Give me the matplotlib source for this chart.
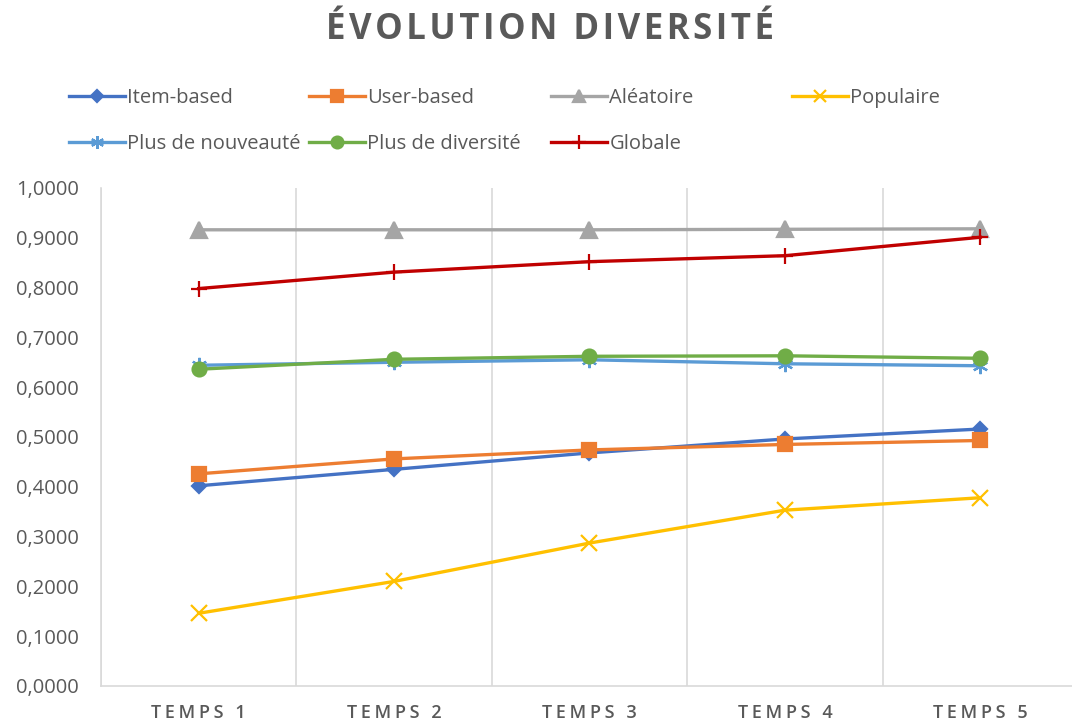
import matplotlib
matplotlib.use("Agg")
import matplotlib.pyplot as plt
from matplotlib.ticker import FuncFormatter, FixedLocator

plt.rcParams['font.family'] = ['Open Sans', 'DejaVu Sans']

# diversity score per time step, one list per recommender
temps = ["TEMPS 1", "TEMPS 2", "TEMPS 3", "TEMPS 4", "TEMPS 5"]
item_based = [0.402, 0.435, 0.468, 0.496, 0.516]
user_based = [0.426, 0.456, 0.474, 0.485, 0.493]
aleatoire = [0.916, 0.916, 0.916, 0.917, 0.918]
populaire = [0.146, 0.210, 0.287, 0.353, 0.378]
plus_nouveaute = [0.644, 0.650, 0.655, 0.647, 0.643]
plus_diversite = [0.636, 0.656, 0.662, 0.663, 0.658]
globale = [0.798, 0.831, 0.852, 0.864, 0.901]

series = [
    ("Item-based", item_based, "#4472C4", "D", 7.5),
    ("User-based", user_based, "#ED7D31", "s", 10.5),
    ("Aléatoire", aleatoire, "#A5A5A5", "^", 11),
    ("Populaire", populaire, "#FFC000", "x", 11),
    ("Plus de nouveauté", plus_nouveaute, "#5B9BD5", (6, 2, 0), 11),
    ("Plus de diversité", plus_diversite, "#70AD47", "o", 10),
    ("Globale", globale, "#C00000", "+", 12),
]

TEXT = "#595959"
GRID = "#D9D9D9"
THIN = "\u2009"
HAIR = "\u200a"


def spaced(s, gap=THIN):
    # fake letter spacing with narrow spaces
    return gap.join(s)


fig = plt.figure(figsize=(10.72, 7.26), dpi=100)
ax = fig.add_axes([0.0942, 0.0551, 0.9114, 0.686])

x = list(range(len(temps)))
handles = {}
for name, vals, color, marker, ms in series:
    line, = ax.plot(x, vals, color=color, lw=2.4, marker=marker, ms=ms,
                    mfc=color, mec=color, mew=1.6, label=name,
                    solid_joinstyle="round", clip_on=False)
    handles[name] = line

ax.set_xlim(-0.5, len(temps) - 0.5)
ax.set_ylim(0, 1)

ax.yaxis.set_major_locator(FixedLocator([i / 10 for i in range(11)]))
ax.yaxis.set_major_formatter(FuncFormatter(lambda v, p: f"{v:.4f}".replace(".", ",")))
ax.set_xticks(x)
ax.set_xticklabels([spaced(t) for t in temps])
ax.set_xticks([i + 0.5 for i in range(-1, len(temps))], minor=True)
ax.grid(True, which="minor", axis="x", color=GRID, lw=1.2)
ax.tick_params(axis="both", which="both", length=0)
ax.tick_params(axis="y", labelsize=14.5, labelcolor=TEXT, pad=16)
ax.tick_params(axis="x", labelsize=13, labelcolor=TEXT, pad=13)
for lab in ax.get_xticklabels():
    lab.set_fontweight("semibold")

for side in ("top", "right"):
    ax.spines[side].set_visible(False)
for side in ("left", "bottom"):
    ax.spines[side].set_color(GRID)
    ax.spines[side].set_linewidth(1.2)

fig.text(0.513, 0.946, spaced("ÉVOLUTION DIVERSITÉ", HAIR),
         ha="center", va="baseline", fontsize=25, fontweight="bold", color=TEXT)

# legend laid out as equal-width columns, two rows
columns = [
    (69, ["Item-based", "Plus de nouveauté"]),
    (309, ["User-based", "Plus de diversité"]),
    (551, ["Aléatoire", "Globale"]),
    (792, ["Populaire"]),
]
for px, names in columns:
    leg = fig.legend(handles=[handles[n] for n in names], labels=names,
                     loc="upper left", bbox_to_anchor=(px / 1072, 1 - 88 / 726),
                     frameon=False, fontsize=14.5, handlelength=2.8,
                     handletextpad=0.1, borderpad=0, borderaxespad=0,
                     labelspacing=1.3, markerscale=0.85)
    for t in leg.get_texts():
        t.set_color(TEXT)

fig.savefig("out.png", dpi=100)
